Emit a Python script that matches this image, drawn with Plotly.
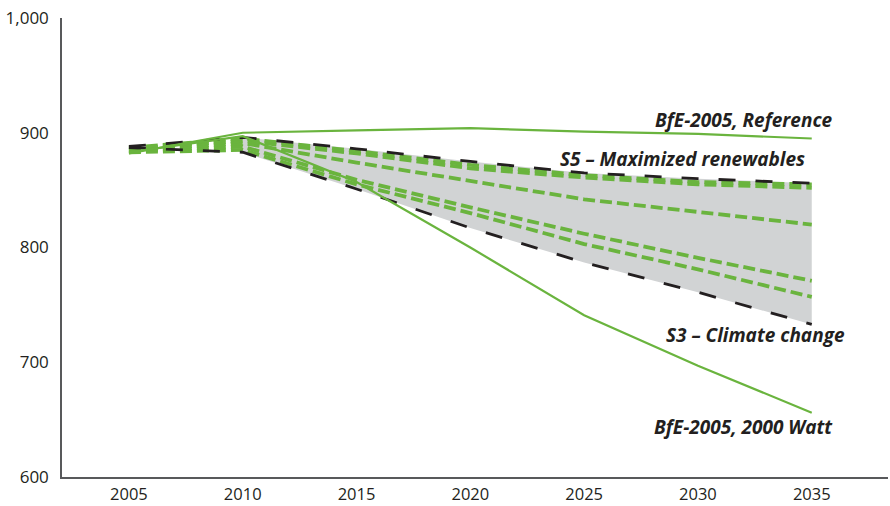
import plotly.graph_objects as go

years = [2005, 2010, 2015, 2020, 2025, 2030, 2035]

# Scenario corridor bounds (black dashed)
s5_max_renewables = [888, 896, 886, 875, 865, 860, 856]
s3_climate_change = [887, 883, 851, 817, 787, 761, 733]

# Other scenarios inside the corridor (green dashed)
scenario_a = [887, 895, 884, 872, 863, 857, 855]
scenario_b = [886, 893, 882, 869, 861, 855, 852]
scenario_c = [885, 891, 874, 858, 842, 831, 820]
scenario_d = [884, 888, 859, 835, 812, 791, 771]
scenario_e = [883, 885, 855, 830, 803, 781, 757]

# BfE-2005 projections (green solid)
bfe_reference = [882, 900, 902, 904, 901, 899, 895]
bfe_2000_watt = [883, 897, 857, 800, 741, 697, 656]

y_ticks = [600, 700, 800, 900, 1000]
y_tick_labels = ["600", "700", "800", "900", "1,000"]

GREEN = "#6ab43e"
DARK = "#231f20"
GREY_FILL = "#d1d3d4"

fig = go.Figure()

# Shaded corridor between the two bounding scenarios, from 2010 on
fig.add_trace(go.Scatter(x=years[1:], y=s5_max_renewables[1:], mode="lines",
                         line=dict(width=0), hoverinfo="skip", showlegend=False))
fig.add_trace(go.Scatter(x=years[1:], y=s3_climate_change[1:], mode="lines",
                         line=dict(width=0), fill="tonexty", fillcolor=GREY_FILL,
                         hoverinfo="skip", showlegend=False))

for series in [scenario_e, scenario_d, scenario_c, scenario_b, scenario_a]:
    fig.add_trace(go.Scatter(x=years, y=series, mode="lines",
                             line=dict(color=GREEN, width=3.8, dash="12px,5px"),
                             showlegend=False))

for series in [s3_climate_change, s5_max_renewables]:
    fig.add_trace(go.Scatter(x=years, y=series, mode="lines",
                             line=dict(color=DARK, width=2.8, dash="17px,20px"),
                             showlegend=False))

for series in [bfe_reference, bfe_2000_watt]:
    fig.add_trace(go.Scatter(x=years, y=series, mode="lines",
                             line=dict(color=GREEN, width=2.2),
                             showlegend=False))

label_font = dict(family="Open Sans", size=19, color=DARK, style="italic", weight="bold")
labels = [
    ("BfE-2005, Reference", 2036.02, 910.9),
    ("S5 – Maximized renewables", 2034.8, 877.0),
    ("S3 – Climate change", 2036.55, 724.0),
    ("BfE-2005, 2000 Watt", 2036.0, 643.6),
]
for text, x, y in labels:
    fig.add_annotation(x=x, y=y, text=text, showarrow=False, xanchor="right",
                       yanchor="middle", font=label_font)

fig.update_layout(
    width=890, height=506,
    margin=dict(l=62, r=2, t=18, b=29),
    paper_bgcolor="white", plot_bgcolor="white",
    font=dict(family="Open Sans", size=17, color=DARK),
)
fig.update_xaxes(range=[2002.06, 2038.35], tickvals=years, showgrid=False,
                 zeroline=False, showline=True, linecolor="#58595b", linewidth=1.5,
                 ticks="", ticklabelstandoff=1, automargin=False,
                 tickfont=dict(size=16.5, color=DARK))
fig.update_yaxes(range=[600, 1000], tickvals=y_ticks, ticktext=y_tick_labels,
                 showgrid=False, zeroline=False, showline=True, linecolor="#58595b",
                 linewidth=1.5, ticks="", ticklabelstandoff=8, automargin=False,
                 tickfont=dict(size=17, color=DARK))

fig.write_html("out.html")
